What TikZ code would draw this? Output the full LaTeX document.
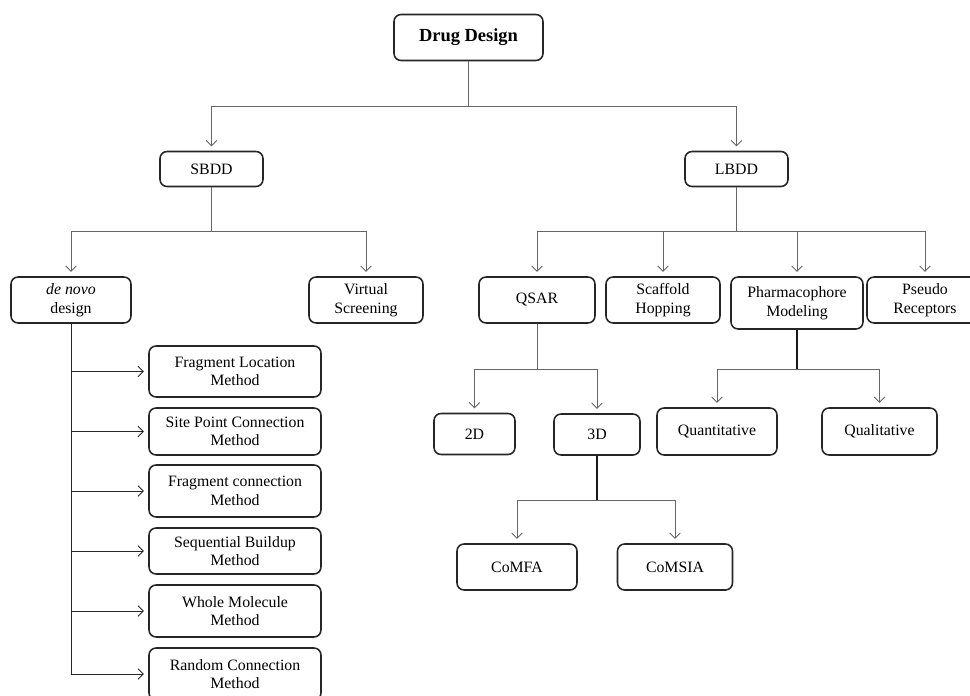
\documentclass[tikz,border=0pt]{standalone}
\usepackage{fontspec}
\setmainfont{Liberation Serif}
\usetikzlibrary{arrows.meta}
\begin{document}
\begin{tikzpicture}[x=0.02cm,y=-0.02cm,
    box/.style={draw=black!85, line width=0.9pt, rounded corners=4pt, align=center,
        inner sep=1pt, font=\fontsize{9}{10.6}\selectfont},
    link/.style={draw=black!60, line width=0.5pt},
    thicklink/.style={draw=black!90, line width=1.1pt},
    arr/.style={link, -{Straight Barb[length=3pt,width=6pt]}, shorten >=2.5pt}]
    % Fix the page size
    \useasboundingbox (0,0) rectangle (970,696);

    % Top level
    \node[box, minimum width=2.98cm, minimum height=0.92cm,
        font=\fontsize{10.5}{12}\selectfont\bfseries] (dd) at (468.5,37.5) {Drug Design};
    \node[box, minimum width=2.06cm, minimum height=0.70cm] (sbdd) at (211.5,169) {SBDD};
    \node[box, minimum width=2.06cm, minimum height=0.70cm] (lbdd) at (736.5,169) {LBDD};

    % Second level
    \node[box, minimum width=2.40cm, minimum height=0.92cm] (denovo) at (71,300) {\textit{de novo}\\design};
    \node[box, minimum width=2.28cm, minimum height=0.92cm] (vs) at (366,300) {Virtual\\Screening};
    \node[box, minimum width=2.32cm, minimum height=0.92cm] (qsar) at (537,300) {QSAR};
    \node[box, minimum width=2.28cm, minimum height=0.92cm] (scaf) at (663,300) {Scaffold\\Hopping};
    \node[box, minimum width=2.64cm, minimum height=1.04cm] (pharm) at (797,303) {Pharmacophore\\Modeling};
    \node[box, minimum width=2.32cm, minimum height=0.92cm] (pseudo) at (925,300) {Pseudo\\Receptors};

    % QSAR and pharmacophore children
    \node[box, minimum width=1.62cm, minimum height=0.82cm] (twod) at (474.5,434) {2D};
    \node[box, minimum width=1.72cm, minimum height=0.82cm] (threed) at (597,434.5) {3D};
    \node[box, minimum width=2.40cm, minimum height=0.92cm] (comfa) at (517,567) {CoMFA};
    \node[box, minimum width=2.30cm, minimum height=0.92cm] (comsia) at (675,567) {CoMSIA};
    \node[box, minimum width=2.40cm, minimum height=0.94cm] (quant) at (717,431.5) {Quantitative};
    \node[box, minimum width=2.30cm, minimum height=0.94cm] (qual) at (879.5,431.5) {Qualitative};

    % de novo methods
    \node[box, minimum width=3.44cm, minimum height=1.02cm] (floc) at (235,371.5) {Fragment Location\\Method};
    \node[box, minimum width=3.44cm, minimum height=0.94cm] (spc) at (235,431.5) {Site Point Connection\\Method};
    \node[box, minimum width=3.44cm, minimum height=1.04cm] (fcon) at (235,491) {Fragment connection\\Method};
    \node[box, minimum width=3.44cm, minimum height=0.92cm] (seqb) at (235,551) {Sequential Buildup\\Method};
    \node[box, minimum width=3.44cm, minimum height=1.04cm] (whole) at (235,611) {Whole Molecule\\Method};
    \node[box, minimum width=3.44cm, minimum height=1.04cm] (rand) at (235,674) {Random Connection\\Method};

    % Junction points
    \coordinate (jdd) at (468.5,106);
    \coordinate (jsb) at (211.5,231);
    \coordinate (jlb) at (736.5,231);
    \coordinate (jqs) at (537,369);
    \coordinate (jph) at (797,369);
    \coordinate (j3d) at (597,500);

    % Connectors
    \draw[link] (dd.south) -- (jdd);
    \draw[arr] (jdd) -| (sbdd.north);
    \draw[arr] (jdd) -| (lbdd.north);

    \draw[link] (sbdd.south) -- (jsb);
    \draw[arr] (jsb) -| (denovo.north);
    \draw[arr] (jsb) -| (vs.north);

    \draw[link] (lbdd.south) -- (jlb);
    \foreach \c in {qsar,scaf,pharm,pseudo}
        \draw[arr] (jlb) -| (\c.north);

    \draw[link] (qsar.south) -- (jqs);
    \draw[arr] (jqs) -| (twod.north);
    \draw[arr] (jqs) -| (threed.north);

    \draw[thicklink] (pharm.south) -- (jph);
    \draw[arr] (jph) -| (quant.north);
    \draw[arr] (jph) -| (qual.north);

    \draw[thicklink] (threed.south) -- (j3d);
    \draw[arr] (j3d) -| (comfa.north);
    \draw[arr] (j3d) -| (comsia.north);

    \draw[draw=black!85, line width=0.5pt] (denovo.south) -- (denovo.south |- rand.west);
    \foreach \m in {floc,spc,fcon,seqb,whole,rand}
        \draw[arr, draw=black!85] (denovo.south |- \m.west) -- (\m.west);
\end{tikzpicture}
\end{document}
